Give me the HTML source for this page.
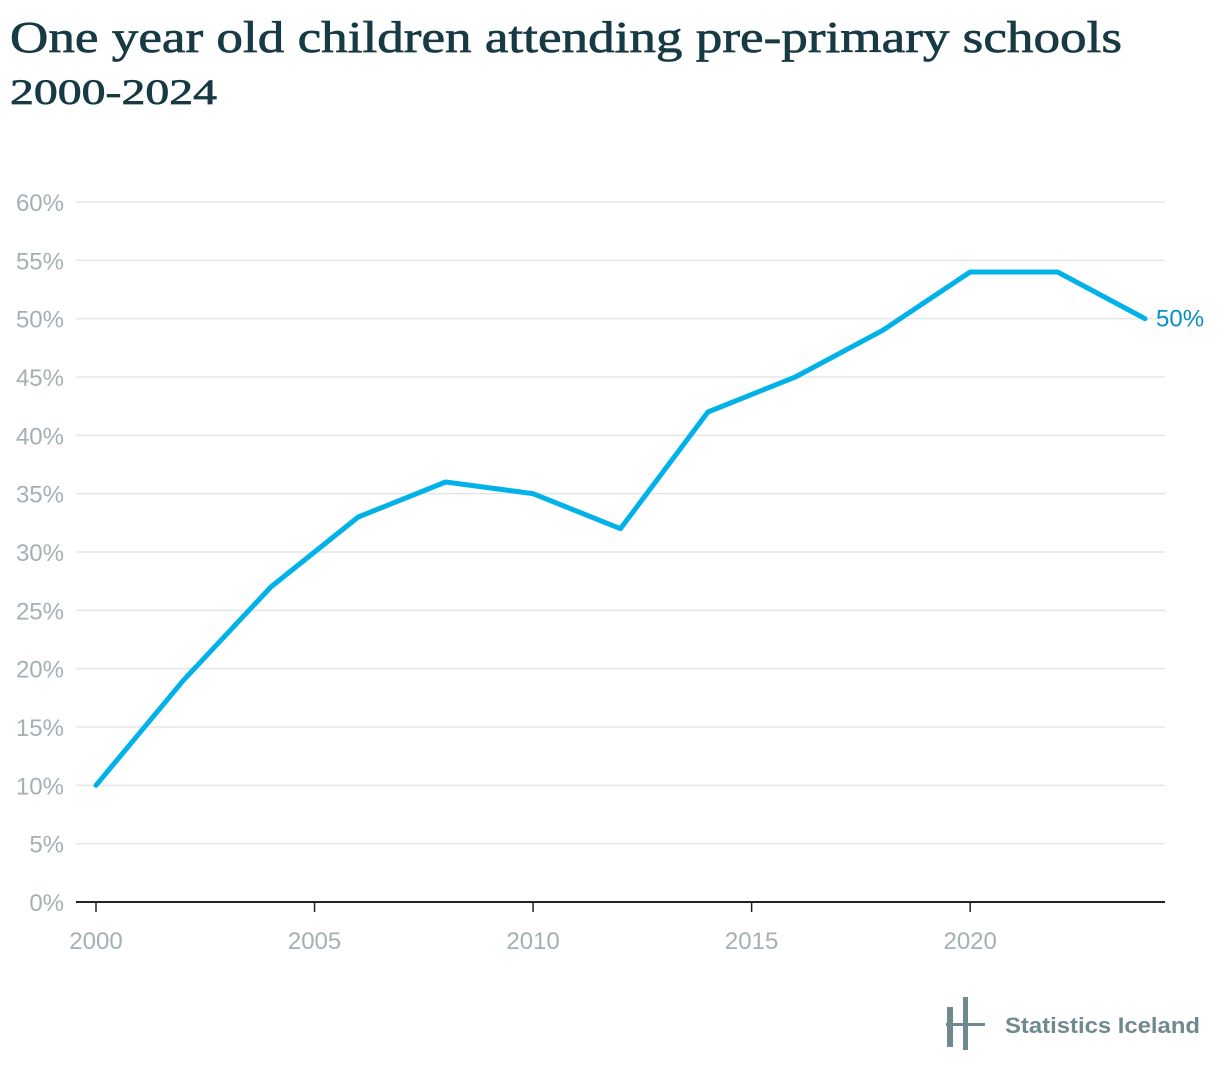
<!DOCTYPE html>
<html><head><meta charset="utf-8"><style>
html,body{margin:0;padding:0;background:#fff;}
svg{display:block;}
</style></head><body>
<svg id="chart" width="1220" height="1074" xmlns="http://www.w3.org/2000/svg">
<text x="10" y="52" font-family="Liberation Serif, serif" font-size="44" fill="#173a44" stroke="#173a44" stroke-width="0.7" textLength="1112" lengthAdjust="spacingAndGlyphs">One year old children attending pre-primary schools</text>
<text x="10" y="104" font-family="Liberation Serif, serif" font-size="36" fill="#173a44" stroke="#173a44" stroke-width="0.7" textLength="207" lengthAdjust="spacingAndGlyphs">2000-2024</text>
<g id="grid"></g>
<g id="yticks"></g>
<g id="xticks"></g>
<g id="series"></g>
<g fill="#6f8a8f">
<rect x="947" y="1007" width="6" height="40"/>
<rect x="963" y="997" width="5" height="53"/>
<rect x="946" y="1023" width="39" height="3"/>
<text x="1005" y="1033" font-family="Liberation Sans, sans-serif" font-size="22" font-weight="bold" textLength="195" lengthAdjust="spacingAndGlyphs">Statistics Iceland</text>
</g>
</svg>
<script>
const years=[2000,2002,2004,2006,2008,2010,2012,2014,2016,2018,2020,2022,2024];
const values=[10,19,27,33,36,35,32,42,45,49,54,54,50];
const yTicks=[0,5,10,15,20,25,30,35,40,45,50,55,60];
const xTicks=[2000,2005,2010,2015,2020];
const NS='http://www.w3.org/2000/svg';
const x=v=>96+(v-2000)*(1145-96)/24;
const y=v=>902-v*(700/60);
function mk(t,a,p){const e=document.createElementNS(NS,t);for(const k in a)e.setAttribute(k,a[k]);p.appendChild(e);return e;}
const grid=document.getElementById('grid'),yt=document.getElementById('yticks'),xt=document.getElementById('xticks'),se=document.getElementById('series');
yTicks.forEach(v=>{
 if(v>0){const l=mk('line',{x1:76,x2:1165,y1:y(v),y2:y(v),stroke:'#e3e6e7','stroke-width':1.5},grid);
 
 }
 const t=mk('text',{x:64,y:y(v)+9,'text-anchor':'end','font-family':'Liberation Sans, sans-serif','font-size':24,fill:'#a3b0b4'},yt);
 t.textContent=v+'%';
 
 
});
const ax=mk('line',{x1:76,x2:1165,y1:902,y2:902,stroke:'#222','stroke-width':2},xt);


xTicks.forEach(v=>{
 const tk=mk('line',{x1:x(v),x2:x(v),y1:902,y2:912,stroke:'#222','stroke-width':1.5},xt);
 
 
 const t=mk('text',{x:x(v),y:949,'text-anchor':'middle','font-family':'Liberation Sans, sans-serif','font-size':24,fill:'#a3b0b4'},xt);
 t.textContent=v;
 
 
});
const p=mk('polyline',{points:years.map((yr,i)=>x(yr)+','+y(values[i])).join(' '),fill:'none',stroke:'#00b2e8','stroke-width':5,'stroke-linejoin':'round','stroke-linecap':'round'},se);


const last=values.length-1;
const lb=mk('text',{x:x(years[last])+11,y:y(values[last])+8,'font-family':'Liberation Sans, sans-serif','font-size':24,fill:'#0a8fc4'},se);
lb.textContent=values[last]+'%';


</script>
</body></html>
